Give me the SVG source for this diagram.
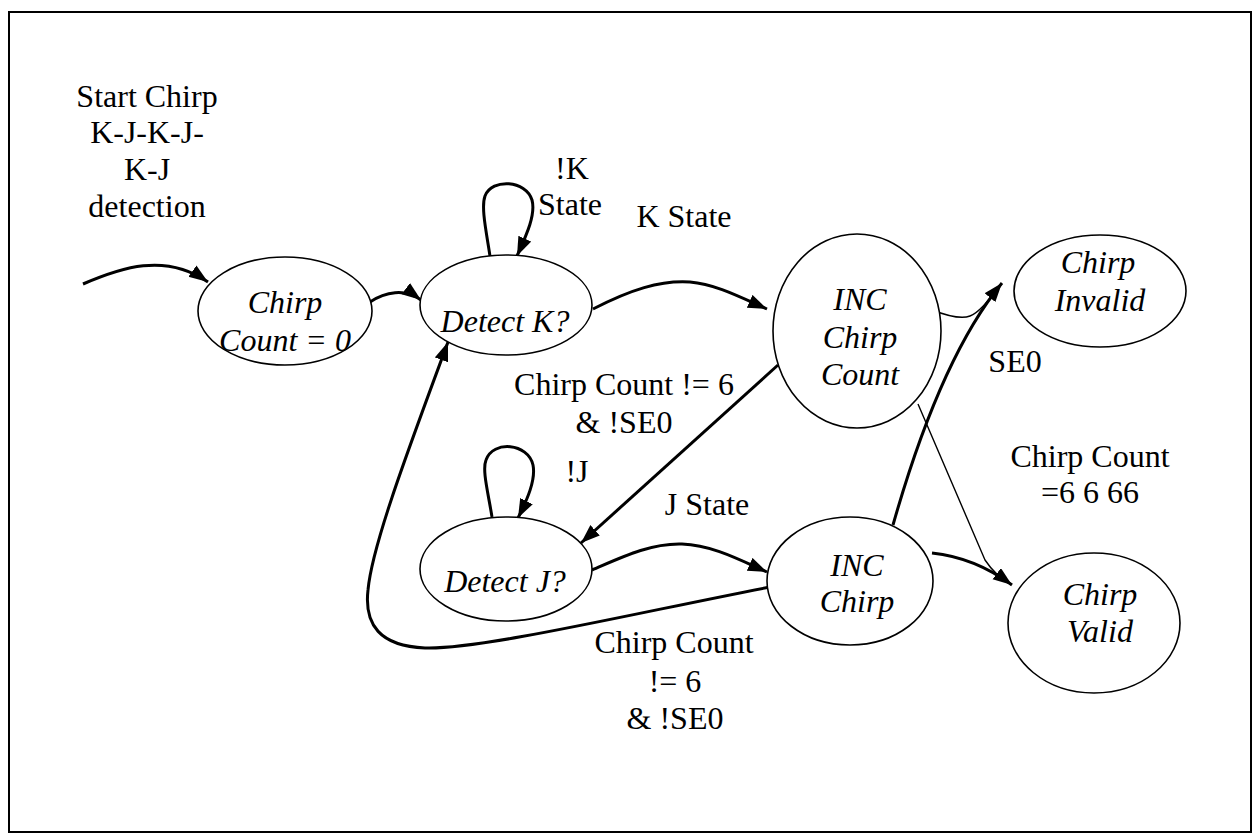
<svg xmlns="http://www.w3.org/2000/svg" width="1252" height="833" viewBox="0 0 1252 833">
<style>
  .node { fill: #fff; stroke: #000; stroke-width: 1.6; }
  .nt { font-style: italic; font-size: 32px; fill: #000; text-anchor: middle; }
  .lbl { font-size: 32px; fill: #000; text-anchor: middle; }
  .edge { fill: none; stroke: #000; stroke-width: 3; }
  .thin { fill: none; stroke: #000; stroke-width: 1.4; }
</style>
<defs>
  <marker id="arr" markerUnits="userSpaceOnUse" markerWidth="20" markerHeight="15" refX="19" refY="7" orient="auto">
    <path d="M0,0 L19,7 L0,14 z" fill="#000"/>
  </marker>
</defs>
<rect x="9" y="12" width="1242" height="820" fill="#fff" stroke="#000" stroke-width="2"/>

<g id="connectors">
  <path class="edge" d="M83,284 C120,268 165,252 208,282" marker-end="url(#arr)"/>
  <path class="edge" d="M370,302 C385,292 405,288 421,300" marker-end="url(#arr)"/>
  <path class="edge" d="M490,256 C486,230 481,207 485,196 C492,178 526,180 532,200 C536,215 526,236 517,256" marker-end="url(#arr)"/>
  <path class="edge" d="M593,309 C630,290 660,280 690,282 C715,284 740,297 767,309" marker-end="url(#arr)"/>
  <path class="edge" d="M778,365 L581,543" marker-end="url(#arr)"/>
  <path class="edge" d="M492,517 C488,492 482,470 486,460 C493,440 528,443 533,465 C536,480 527,500 518,518" marker-end="url(#arr)"/>
  <path class="edge" d="M592,570 C620,558 650,543 682,544 C712,545 740,560 767,572" marker-end="url(#arr)"/>
  <path class="edge" d="M770,587 C640,612 480,650 425,648 C380,646 364,625 368,590 C372,545 410,445 448,342" marker-end="url(#arr)"/>
  <path class="thin" d="M918,404 L985,560 Q995,575 1010,584"/>
  <path class="edge" d="M932,553 C960,556 985,565 1012,585" marker-end="url(#arr)"/>
  <path class="edge" d="M893,525 C920,430 955,340 1002,283" marker-end="url(#arr)"/>
  <path class="thin" d="M932,310 C945,315 960,320 970,316 C980,312 990,298 1000,286"/>
</g>

<g font-family="'Liberation Serif', 'Noto Serif', 'DejaVu Serif', serif">
<g id="n-count0">
  <ellipse class="node" cx="285" cy="311" rx="87" ry="54"/>
  <text class="nt" x="285" y="313">Chirp</text>
  <text class="nt" x="285" y="351">Count = 0</text>
</g>
<g id="n-detectK">
  <ellipse class="node" cx="506" cy="305" rx="86" ry="50"/>
  <text class="nt" x="505" y="332">Detect K?</text>
</g>
<g id="n-incCount">
  <ellipse class="node" cx="857" cy="331" rx="84" ry="97"/>
  <text class="nt" x="860" y="310">INC</text>
  <text class="nt" x="860" y="348">Chirp</text>
  <text class="nt" x="860" y="385">Count</text>
</g>
<g id="n-invalid">
  <ellipse class="node" cx="1100" cy="291" rx="86" ry="56"/>
  <text class="nt" x="1098" y="273">Chirp</text>
  <text class="nt" x="1100" y="311">Invalid</text>
</g>
<g id="n-detectJ">
  <ellipse class="node" cx="506" cy="569" rx="86" ry="52"/>
  <text class="nt" x="505" y="592">Detect J?</text>
</g>
<g id="n-incChirp">
  <ellipse class="node" cx="850" cy="581" rx="83" ry="64"/>
  <text class="nt" x="857" y="576">INC</text>
  <text class="nt" x="857" y="612">Chirp</text>
</g>
<g id="n-valid">
  <ellipse class="node" cx="1094" cy="623" rx="86" ry="70"/>
  <text class="nt" x="1100" y="605">Chirp</text>
  <text class="nt" x="1100" y="642">Valid</text>
</g>

<g id="labels">
  <text class="lbl" x="147" y="107">Start Chirp</text>
  <text class="lbl" x="147" y="143">K-J-K-J-</text>
  <text class="lbl" x="147" y="180">K-J</text>
  <text class="lbl" x="147" y="217">detection</text>
  <text class="lbl" x="572" y="179">!K</text>
  <text class="lbl" x="570" y="215">State</text>
  <text class="lbl" x="684" y="227">K State</text>
  <text class="lbl" x="624" y="395">Chirp Count != 6</text>
  <text class="lbl" x="624" y="433">&amp; !SE0</text>
  <text class="lbl" x="577" y="482">!J</text>
  <text class="lbl" x="707" y="515">J State</text>
  <text class="lbl" x="1015" y="372">SE0</text>
  <text class="lbl" x="1090" y="467">Chirp Count</text>
  <text class="lbl" x="1090" y="503">=6 6 66</text>
  <text class="lbl" x="674" y="653">Chirp Count</text>
  <text class="lbl" x="675" y="692">!= 6</text>
  <text class="lbl" x="675" y="729">&amp; !SE0</text>
</g>
</g>
</svg>
